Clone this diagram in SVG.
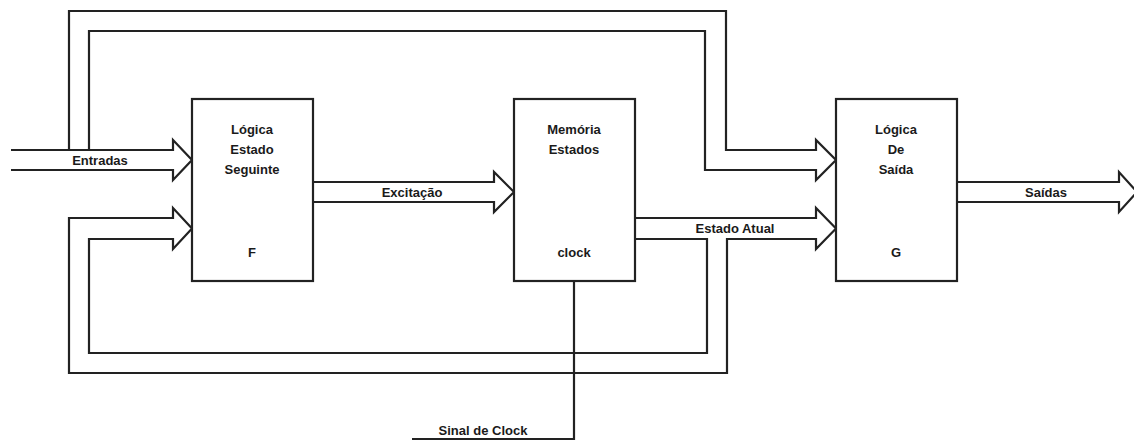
<svg xmlns="http://www.w3.org/2000/svg" width="1134" height="441" viewBox="0 0 1134 441">
<style>
.b{fill:#fff;stroke:#222;stroke-width:2.2}
.c{fill:none;stroke:#222;stroke-width:2.2;stroke-linejoin:miter}
text{font-family:"Liberation Sans",Arial,sans-serif;font-weight:bold;font-size:13px;fill:#1a1a1a;text-anchor:middle}
</style>
<rect width="1134" height="441" fill="#fff"/>
<g id="connectors">
<path class="c" d="M11,150 H173 V140 L192,160 L173,180 V170 H11"/>
<path class="c" d="M69,150 V11 H726 V150 H816 V140 L836,160 L816,180 V170 H705 V31 H89 V150"/>
<path class="c" d="M313,182 H494 V172 L514,192 L494,212 V202 H313"/>
<path class="c" d="M635,218 H816 V208 L836,228.5 L816,249 V239 H727 V373 H69 V218 H173 V208 L192,228.5 L173,249 V239 H89 V353 H707 V239 H635"/>
<path class="c" d="M957,182 H1119 V172 L1137,192 L1119,212 V202 H957"/>
<path class="c" d="M574,281 V439 H412"/>
<text x="100" y="165">Entradas</text>
<text x="412" y="197">Excitação</text>
<text x="735" y="233">Estado Atual</text>
<text x="1046" y="197">Saídas</text>
<text x="483" y="435">Sinal de Clock</text>
</g>
<g id="node-F">
<rect class="b" x="192" y="99" width="121" height="182"/>
<text x="252" y="134">Lógica</text>
<text x="252" y="154">Estado</text>
<text x="252" y="174">Seguinte</text>
<text x="252" y="257">F</text>
</g>
<g id="node-mem">
<rect class="b" x="514" y="99" width="121" height="182"/>
<text x="574" y="134">Memória</text>
<text x="574" y="154">Estados</text>
<text x="574" y="257">clock</text>
</g>
<g id="node-G">
<rect class="b" x="836" y="99" width="121" height="182"/>
<text x="896" y="134">Lógica</text>
<text x="896" y="154">De</text>
<text x="896" y="174">Saída</text>
<text x="896" y="257">G</text>
</g>
</svg>
